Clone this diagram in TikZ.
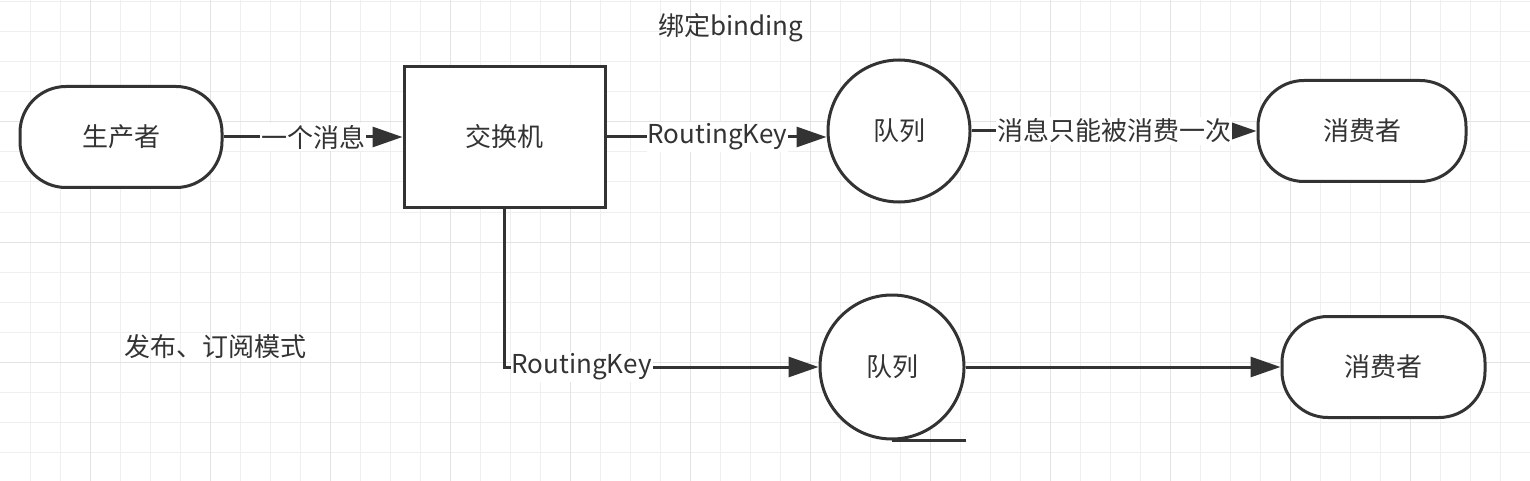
\documentclass[tikz,border=0pt]{standalone}
\usepackage{fontspec}
\setmainfont{Noto Sans CJK SC}
\usetikzlibrary{arrows.meta}
\definecolor{ink}{HTML}{333333}
\definecolor{gridminor}{HTML}{EFEFEF}
\definecolor{gridmajor}{HTML}{E3E3E3}
\tikzset{
  term/.style={draw=ink, line width=3pt, fill=white, rounded corners=46pt, minimum height=101pt, text=ink, inner sep=0pt},
  xbox/.style={draw=ink, line width=3pt, fill=white, minimum width=201pt, minimum height=140pt, text=ink},
  queue/.style={draw=ink, line width=3pt, fill=white, circle, minimum size=142pt, inner sep=0pt, text=ink},
  conn/.style={draw=ink, line width=3pt, -{Triangle[length=30pt, width=20pt]}},
  lbl/.style={fill=white, text=ink, inner xsep=1pt, inner ysep=2pt},
  plain/.style={text=ink}
}
\begin{document}
\begin{tikzpicture}[x=1pt, y=-1pt, font=\fontsize{26}{31}\selectfont]
\fill[white] (0,0) rectangle (1530,481);
\useasboundingbox (0,0) rectangle (1530,481);
% grid
\foreach \x in {30,60,...,1520} \draw[gridminor, line width=1pt] (\x,0) -- (\x,481);
\foreach \y in {2,32,...,480} \draw[gridminor, line width=1pt] (0,\y) -- (1530,\y);
\foreach \x in {90,210,...,1520} \draw[gridmajor, line width=1pt] (\x,0) -- (\x,481);
\foreach \y in {122,242,362} \draw[gridmajor, line width=1pt] (0,\y) -- (1530,\y);

% nodes
\node[term, minimum width=202pt] (prod) at (121,137) {生产者};
\node[xbox] (ex) at (504.5,137) {交换机};
\node[queue] (q1) at (899,131) {队列};
\node[term, minimum width=208pt] (c1) at (1362,131) {消费者};
\node[queue, minimum size=144pt] (q2) at (892,367) {队列};
\node[term, minimum width=203pt] (c2) at (1383.5,367) {消费者};

\node[plain] (bind) at (731,28) {绑定binding};
\node[plain] (mode) at (215,347) {发布、订阅模式};

% connectors
\draw[conn] (prod.east) -- node[lbl] {一个消息} (ex.west);
\draw[conn] (ex.east) -- node[lbl, xshift=1pt] {RoutingKey} (ex.east -| q1.west);
\draw[conn] (q1.east) -- node[lbl] {消息只能被消费一次} (c1.west);
\draw[conn] (ex.south) |- (q2.west);
\node[lbl, anchor=west] (rk2) at ([xshift=6pt]ex.south |- q2.west) {RoutingKey};
\draw[draw=ink, line width=3pt] (q2.south) -- (q2.south -| q2.east);
\draw[conn] (q2.east) -- (c2.west);
\end{tikzpicture}
\end{document}
